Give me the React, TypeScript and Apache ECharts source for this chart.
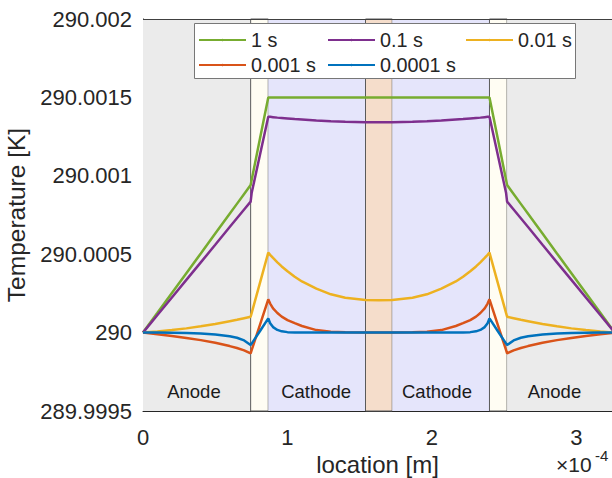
import React, { useEffect, useRef } from 'react';
import * as echarts from 'echarts';

const FONT = '"Liberation Sans", Arial, Helvetica, sans-serif';
const TXT = '#262626';

// x positions, units of 1e-4 m
const xs = [
  0, 0.1, 0.2, 0.3, 0.4, 0.5, 0.6, 0.65, 0.7, 0.745, 0.752, 0.81, 0.867, 0.88, 0.9, 0.93, 0.96, 1.0, 1.05, 1.1, 1.2, 1.3, 1.4, 1.54, 1.6325,
  1.725, 1.865, 1.965, 2.065, 2.165, 2.215, 2.265, 2.305, 2.335, 2.365, 2.385, 2.398, 2.455, 2.513, 2.52, 2.565, 2.615, 2.665, 2.765, 2.865, 2.965, 3.065, 3.165, 3.265,
];

// temperature rise above 290 K, units of 1e-4 K
const t1s = [
  0, 1.26, 2.53, 3.79, 5.05, 6.32, 7.58, 8.21, 8.84, 9.41, 9.73, 12.39, 15.0, 15.0, 15.0, 15.0, 15.0, 15.0, 15.0, 15.0, 15.0, 15.0, 15.0, 15.0, 15.0,
  15.0, 15.0, 15.0, 15.0, 15.0, 15.0, 15.0, 15.0, 15.0, 15.0, 15.0, 15.0, 12.39, 9.73, 9.41, 8.84, 8.21, 7.58, 6.32, 5.05, 3.79, 2.53, 1.26, 0,
];
const t01s = [
  0, 1.12, 2.24, 3.36, 4.48, 5.6, 6.73, 7.29, 7.85, 8.35, 8.9, 11.36, 13.77, 13.76, 13.74, 13.71, 13.69, 13.66, 13.62, 13.59, 13.53, 13.48, 13.44, 13.41, 13.41,
  13.41, 13.44, 13.48, 13.53, 13.59, 13.62, 13.66, 13.69, 13.71, 13.74, 13.76, 13.77, 11.36, 8.9, 8.35, 7.85, 7.29, 6.73, 5.6, 4.48, 3.36, 2.24, 1.12, 0,
];
const t001s = [
  0, 0.07, 0.16, 0.27, 0.4, 0.55, 0.73, 0.82, 0.92, 1.01, 1.24, 3.19, 5.1, 4.96, 4.76, 4.48, 4.22, 3.91, 3.56, 3.26, 2.8, 2.44, 2.22, 2.08, 2.07,
  2.08, 2.22, 2.44, 2.8, 3.26, 3.56, 3.91, 4.22, 4.48, 4.76, 4.96, 5.1, 3.19, 1.24, 1.01, 0.92, 0.82, 0.73, 0.55, 0.4, 0.27, 0.16, 0.07, 0,
];
const t0001s = [
  0, -0.1, -0.21, -0.34, -0.48, -0.65, -0.86, -0.98, -1.13, -1.32, -1.12, 0.51, 2.12, 1.85, 1.55, 1.25, 1.02, 0.8, 0.6, 0.42, 0.16, 0.06, 0.02, 0.01, 0.01,
  0.01, 0.02, 0.06, 0.16, 0.42, 0.6, 0.8, 1.02, 1.25, 1.55, 1.85, 2.12, 0.51, -1.12, -1.32, -1.13, -0.98, -0.86, -0.65, -0.48, -0.34, -0.21, -0.1, 0,
];
const t00001s = [
  0, 0, -0.01, -0.02, -0.05, -0.12, -0.23, -0.33, -0.5, -0.79, -0.7, 0.1, 0.91, 0.6, 0.35, 0.17, 0.08, 0.03, 0.01, 0, 0, 0, 0, 0, 0,
  0, 0, 0, 0, 0, 0.01, 0.03, 0.08, 0.17, 0.35, 0.6, 0.91, 0.1, -0.7, -0.79, -0.5, -0.33, -0.23, -0.12, -0.05, -0.02, -0.01, 0, 0,
];

const seriesNames = ['1 s', '0.1 s', '0.01 s', '0.001 s', '0.0001 s'];
const seriesColors = ['#77AC30', '#7E2F8E', '#EDB120', '#D95319', '#0072BD'];
const seriesData = [t1s, t01s, t001s, t0001s, t00001s];

// layer regions (1e-4 m)
const regionBounds = [0, 0.745, 0.867, 1.54, 1.725, 2.398, 2.52, 3.265];
const regionColors = ['#ebebeb', '#fffdf3', '#e5e5fb', '#f5ddcb', '#e5e5fb', '#fffdf3', '#ebebeb'];
const regionEdged = [false, true, false, true, false, true, false];

const regionLabelNames = ['Anode', 'Cathode', 'Cathode', 'Anode'];
const regionLabelX = [0.356, 1.202, 2.038, 2.851];
const regionLabelY = [-3.79, -3.79, -3.79, -3.79];

const xTickLabels = ['0', '1', '2', '3'];
const yTickLabels = ['289.9995', '290', '290.0005', '290.001', '290.0015', '290.002'];
const X_MIN = 0;
const X_MAX = 3.246;
const Y_BASE = 290;
const Y_UNIT = 1e-4;
const Y_MIN = 289.9995;
const Y_MAX = 290.002;
const Y_STEP = 0.0005;

const legendPos = [
  { left: 198, top: 29 },
  { left: 327, top: 29 },
  { left: 465, top: 29 },
  { left: 198, top: 54 },
  { left: 327, top: 54 },
];

export default function App() {
  const ref = useRef<HTMLDivElement>(null);
  useEffect(() => {
    const chart = echarts.init(ref.current!, null, { renderer: 'svg' });

    const markAreaData = regionColors.map((c, i) => [
      {
        xAxis: regionBounds[i],
        itemStyle: {
          color: c,
          borderColor: regionEdged[i] ? '#5a5a5a' : 'transparent',
          borderWidth: regionEdged[i] ? 1 : 0,
        },
      },
      { xAxis: regionBounds[i + 1] },
    ]);

    const lineSeries = seriesNames.map((name, si) => ({
      name,
      type: 'line',
      data: xs.map((x, i) => [x, Y_BASE + seriesData[si][i] * Y_UNIT]),
      showSymbol: false,
      symbol: 'none',
      legendIcon: 'rect',
      color: seriesColors[si],
      itemStyle: { color: seriesColors[si] },
      lineStyle: { color: seriesColors[si], width: 2.5 },
      clip: true,
      z: 3,
      ...(si === 0
        ? { markArea: { silent: true, z: 1, label: { show: false }, data: markAreaData } }
        : {}),
    }));

    const labelSeries = {
      name: 'regions',
      type: 'scatter',
      symbolSize: 1,
      itemStyle: { color: 'rgba(0,0,0,0)' },
      silent: true,
      z: 2,
      data: regionLabelNames.map((n, i) => ({
        value: [regionLabelX[i], Y_BASE + regionLabelY[i] * Y_UNIT],
        name: n,
      })),
      label: {
        show: true,
        position: [0, 0],
        align: 'center',
        verticalAlign: 'middle',
        formatter: (p: any) => p.name,
        fontFamily: FONT,
        fontSize: 18.5,
        color: '#1a1a1a',
        opacity: 1,
        textBorderWidth: 0,
      },
    };

    const legends = seriesNames.map((name, i) => ({
      show: true,
      data: [name],
      left: legendPos[i].left,
      top: legendPos[i].top,
      padding: 0,
      itemWidth: 47,
      itemHeight: 3,
      selectedMode: false,
      textStyle: { fontFamily: FONT, fontSize: 19.8, color: TXT, lineHeight: 22 },
    }));

    const option: any = {
      animation: false,
      backgroundColor: '#ffffff',
      grid: { left: 143, right: 0, top: 19, bottom: 67, containLabel: false, outerBoundsMode: 'none' },
      legend: legends,
      xAxis: {
        type: 'value',
        min: X_MIN,
        max: X_MAX,
        interval: 1,
        name: 'location [m]',
        nameLocation: 'middle',
        nameGap: 39,
        nameTextStyle: { fontFamily: FONT, fontSize: 24, color: TXT },
        axisLine: { show: true, onZero: false, lineStyle: { color: TXT, width: 1 } },
        axisTick: { show: false },
        splitLine: { show: false },
        axisLabel: {
          fontFamily: FONT,
          fontSize: 22,
          color: TXT,
          margin: 15,
          formatter: (v: number) => {
            const idx = Math.round(v);
            return Math.abs(v - idx) < 1e-9 && idx >= 0 && idx < xTickLabels.length ? xTickLabels[idx] : '';
          },
        },
      },
      yAxis: {
        type: 'value',
        min: Y_MIN,
        max: Y_MAX,
        interval: Y_STEP,
        name: 'Temperature [K]',
        nameLocation: 'middle',
        nameGap: 108,
        nameRotate: 90,
        nameTextStyle: { fontFamily: FONT, fontSize: 24.5, color: TXT },
        axisLine: { show: true, onZero: false, lineStyle: { color: TXT, width: 1 } },
        axisTick: { show: false },
        splitLine: { show: false },
        axisLabel: {
          fontFamily: FONT,
          fontSize: 22,
          color: TXT,
          margin: 11,
          formatter: (v: number) => {
            const idx = Math.round((v - Y_MIN) / Y_STEP);
            return yTickLabels[idx] ?? '';
          },
        },
      },
      graphic: [
        {
          type: 'rect',
          z: 3.5,
          silent: true,
          shape: { x: 194.5, y: 23.5, width: 381, height: 55 },
          style: { fill: '#ffffff', stroke: '#777777', lineWidth: 1 },
        },
        {
          type: 'line',
          z: 5,
          silent: true,
          shape: { x1: 143, y1: 19.5, x2: 612, y2: 19.5 },
          style: { stroke: '#404040', lineWidth: 1 },
        },
        {
          type: 'text',
          left: 556,
          top: 454,
          silent: true,
          style: { text: '×10', fontFamily: FONT, fontSize: 21, fill: TXT },
        },
        {
          type: 'text',
          left: 595,
          top: 448,
          silent: true,
          style: { text: '-4', fontFamily: FONT, fontSize: 15, fill: TXT },
        },
      ],
      series: [...lineSeries, labelSeries],
    };

    chart.setOption(option);
    return () => chart.dispose();
  }, []);

  return <div ref={ref} style={{ position: 'fixed', left: 0, top: 0, width: 612, height: 478 }} />;
}
